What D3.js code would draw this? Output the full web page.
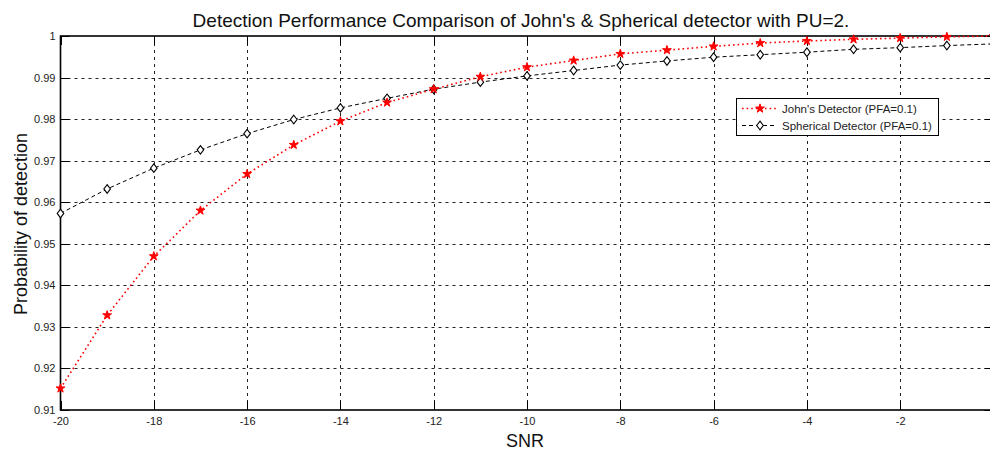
<!DOCTYPE html>
<html><head><meta charset="utf-8">
<script src="https://cdn.jsdelivr.net/npm/d3@7"></script>
<style>
body{margin:0;background:#fff;}
svg{display:block;font-family:"Liberation Sans",Arial,sans-serif;}
</style></head>
<body><svg id="c" width="990" height="451"></svg>
<script>
const snr = [-20,-19,-18,-17,-16,-15,-14,-13,-12,-11,-10,-9,-8,-7,-6,-5,-4,-3,-2,-1,0];
const johns = [0.9152,0.9328,0.9470,0.9580,0.9668,0.9738,0.9795,0.9840,0.9872,0.9902,0.9925,0.9941,0.9957,0.9966,0.9975,0.9983,0.9988,0.9992,0.9995,0.9998,1.0000];
const spherical = [0.9573,0.9632,0.9682,0.9726,0.9765,0.9799,0.9827,0.9850,0.9872,0.9889,0.9904,0.9917,0.9930,0.9940,0.9949,0.9955,0.9961,0.9968,0.9972,0.9977,0.9981];
const xTicks = [-20,-18,-16,-14,-12,-10,-8,-6,-4,-2,0];
const yTicks = [0.91,0.92,0.93,0.94,0.95,0.96,0.97,0.98,0.99,1];
const seriesNames = ["John's Detector (PFA=0.1)","Spherical Detector (PFA=0.1)"];
const titleText = "Detection Performance Comparison of John's & Spherical detector with PU=2.";

const svg = d3.select("#c");
const L=60.5, R=993.5, T=36, B=410;
const x = d3.scaleLinear().domain([-20,0]).range([L,R]);
const y = d3.scaleLinear().domain([0.91,1]).range([B,T]);

// grid
const g = svg.append("g");
g.selectAll(".vg").data(xTicks.slice(1,-1)).join("line")
 .attr("x1",d=>Math.round(x(d))+0.5).attr("x2",d=>Math.round(x(d))+0.5).attr("y1",T).attr("y2",B)
 .attr("stroke","#222").attr("stroke-width",1).attr("stroke-dasharray","3,4");
g.selectAll(".hg").data(yTicks.slice(1,-1)).join("line")
 .attr("y1",d=>Math.round(y(d))+0.5).attr("y2",d=>Math.round(y(d))+0.5).attr("x1",L).attr("x2",R)
 .attr("stroke","#222").attr("stroke-width",1).attr("stroke-dasharray","3,4");

// axes
const xAxis = d3.axisBottom(x).tickValues(xTicks).tickSize(0).tickPadding(7).tickFormat(d=>String(d));
const ax = svg.append("g").attr("transform",`translate(0,${B})`).call(xAxis);
ax.select(".domain").remove();
ax.selectAll("text").attr("font-size",11).attr("fill","#222").attr("font-family","Liberation Sans, Arial, sans-serif");
const yAxis = d3.axisLeft(y).tickValues(yTicks).tickSize(0).tickPadding(5).tickFormat(d=>d===1?"1":d3.format(".2f")(d));
const ay = svg.append("g").attr("transform",`translate(${L},0)`).call(yAxis);
ay.select(".domain").remove();
ay.selectAll("text").attr("font-size",11).attr("fill","#222").attr("font-family","Liberation Sans, Arial, sans-serif");

// inner tick marks
svg.selectAll(".xt").data(xTicks).join("g").each(function(d){
  const s=d3.select(this), xx=Math.round(x(d))+0.5;
  s.append("line").attr("x1",xx).attr("x2",xx).attr("y1",B).attr("y2",B-9).attr("stroke","#000");
  s.append("line").attr("x1",xx).attr("x2",xx).attr("y1",T).attr("y2",T+9).attr("stroke","#000");
});
svg.selectAll(".yt").data(yTicks).join("g").each(function(d){
  const s=d3.select(this), yy=Math.round(y(d))+0.5;
  s.append("line").attr("x1",L).attr("x2",L+9).attr("y1",yy).attr("y2",yy).attr("stroke","#000");
  s.append("line").attr("x1",R).attr("x2",R-9).attr("y1",yy).attr("y2",yy).attr("stroke","#000");
});
// box
svg.append("rect").attr("x",L).attr("y",T).attr("width",R-L).attr("height",B-T)
 .attr("fill","none").attr("stroke","#000").attr("stroke-width",1.6);

// lines
const line = d3.line().x(d=>x(d[0])).y(d=>y(d[1]));
const jd = snr.map((s,i)=>[s,johns[i]]);
const sd = snr.map((s,i)=>[s,spherical[i]]);
svg.append("path").datum(sd).attr("d",line).attr("fill","none").attr("stroke","#000").attr("stroke-width",1).attr("stroke-dasharray","4,3");
svg.append("path").datum(jd).attr("d",line).attr("fill","none").attr("stroke","#ff0000").attr("stroke-width",1.6).attr("stroke-dasharray","1.6,3");

const star = d3.symbol().type(d3.symbolStar).size(24);
const diamond = "M0,-4.3L3.3,0L0,4.3L-3.3,0Z";
function drawStar(sel,cx,cy){
  sel.append("path").attr("d",star()).attr("transform",`translate(${cx},${cy})`).attr("fill","#ff0000").attr("stroke","#ff0000").attr("stroke-width",1);
}
function drawDiamond(sel,cx,cy){
  sel.append("path").attr("d",diamond).attr("transform",`translate(${cx},${cy})`).attr("fill","#fff").attr("stroke","#000").attr("stroke-width",1.1);
}
const ms = svg.append("g");
sd.forEach(d=>drawDiamond(ms,x(d[0]),y(d[1])));
jd.forEach(d=>drawStar(ms,x(d[0]),y(d[1])));

// legend
const lg = svg.append("g");
lg.append("rect").attr("x",736.5).attr("y",98.5).attr("width",202).attr("height",37).attr("fill","#fff").attr("stroke","#000").attr("stroke-width",1);
lg.append("line").attr("x1",742).attr("x2",776).attr("y1",108.5).attr("y2",108.5).attr("stroke","#ff0000").attr("stroke-width",1.6).attr("stroke-dasharray","1.6,3");
drawStar(lg,760,108.5);
lg.append("line").attr("x1",742).attr("x2",776).attr("y1",125.5).attr("y2",125.5).attr("stroke","#000").attr("stroke-width",1).attr("stroke-dasharray","4,3");
drawDiamond(lg,760,125.5);
lg.append("text").attr("x",782).attr("y",112.5).attr("font-size",11.5).attr("fill","#222").text(seriesNames[0]);
lg.append("text").attr("x",782).attr("y",129.5).attr("font-size",11.5).attr("fill","#222").text(seriesNames[1]);

// titles
svg.append("text").attr("x",521).attr("y",27).attr("text-anchor","middle").attr("font-size",19).attr("fill","#111").text(titleText);
svg.append("text").attr("x",525).attr("y",447).attr("text-anchor","middle").attr("font-size",18).attr("fill","#111").text("SNR");
svg.append("text").attr("transform","translate(27,224) rotate(-90)").attr("text-anchor","middle").attr("font-size",18).attr("fill","#111").text("Probability of detection");
</script></body></html>
